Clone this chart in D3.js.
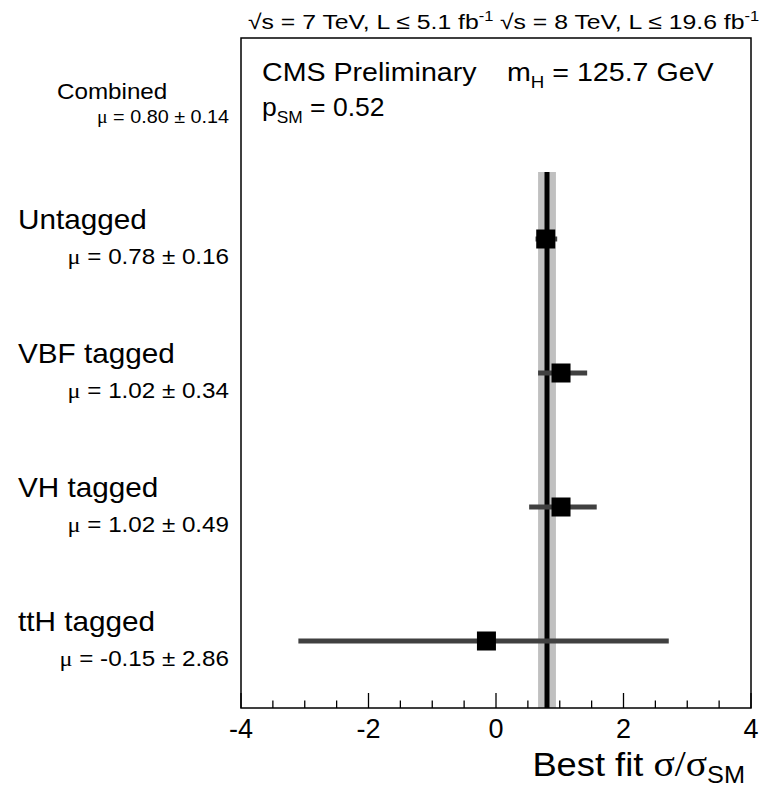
<!DOCTYPE html>
<html>
<head>
<meta charset="utf-8">
<script src="https://cdn.jsdelivr.net/npm/d3@7"></script>
<style>
  html, body { margin: 0; padding: 0; background: #fff; }
  svg { display: block; font-family: "Liberation Sans", Arial, Helvetica, sans-serif; }
</style>
</head>
<body>
<div id="chart"></div>
<script>
(function () {
  // rows, top to bottom
  const categories = ['Combined', 'Untagged', 'VBF tagged', 'VH tagged', 'ttH tagged'];
  const muValues = ['0.80 \u00b1 0.14', '0.78 \u00b1 0.16', '1.02 \u00b1 0.34', '1.02 \u00b1 0.49', '-0.15 \u00b1 2.86'];

  // combined fit (vertical line + band)
  const combinedFit = 0.80;
  const combinedErr = 0.14;

  // per-channel best fit and error bar extent
  const channels = ['Untagged', 'VBF tagged', 'VH tagged', 'ttH tagged'];
  const bestFit = [0.78, 1.02, 1.02, -0.15];
  const errLow = [0.16, 0.36, 0.50, 2.95];
  const errHigh = [0.18, 0.41, 0.56, 2.86];

  const xTicksMajor = [-4, -2, 0, 2, 4];
  const xTicksMinor = [-3.5, -3, -2.5, -1.5, -1, -0.5, 0.5, 1, 1.5, 2.5, 3, 3.5];

  const W = 759, H = 789;
  const FRAME = { left: 241, right: 751, top: 38, bottom: 708 };
  const SERIF = '"Liberation Serif", "Times New Roman", serif';
  const SX = 1.1; // ROOT text in the source looks a bit wider than Helvetica

  const svg = d3.select('#chart').append('svg')
    .attr('width', W)
    .attr('height', H);

  // text placed in a horizontally stretched group
  function wideText(px, py, anchor, sx) {
    return svg.append('g')
      .attr('transform', `translate(${px},${py}) scale(${sx || SX},1)`)
      .append('text')
      .attr('text-anchor', anchor || 'start');
  }

  const x = d3.scaleLinear().domain([-4, 4]).range([FRAME.left, FRAME.right]);
  const y = d3.scaleBand().domain(categories).range([FRAME.top, FRAME.bottom]);
  const yc = c => y(c) + y.bandwidth() / 2;

  // Combined band + line (starts at boundary below the "Combined" row)
  const bandTop = y(categories[1]);
  svg.append('rect')
    .attr('x', x(combinedFit - combinedErr))
    .attr('y', bandTop)
    .attr('width', x(combinedFit + combinedErr) - x(combinedFit - combinedErr))
    .attr('height', FRAME.bottom - bandTop)
    .attr('fill', '#c0c0c0');

  svg.append('line')
    .attr('x1', x(combinedFit)).attr('x2', x(combinedFit))
    .attr('y1', bandTop).attr('y2', FRAME.bottom)
    .attr('stroke', '#000')
    .attr('stroke-width', 5);

  // Error bars
  const pts = channels.map((c, i) => ({ c, v: bestFit[i], lo: bestFit[i] - errLow[i], hi: bestFit[i] + errHigh[i] }));

  svg.selectAll(null)
    .data(pts)
    .enter()
    .append('line')
    .attr('x1', d => x(d.lo))
    .attr('x2', d => x(d.hi))
    .attr('y1', d => yc(d.c))
    .attr('y2', d => yc(d.c))
    .attr('stroke', '#404040')
    .attr('stroke-width', 5);

  const MS = 19;
  svg.selectAll(null)
    .data(pts)
    .enter()
    .append('rect')
    .attr('x', d => x(d.v) - MS / 2)
    .attr('y', d => yc(d.c) - MS / 2)
    .attr('width', MS)
    .attr('height', MS)
    .attr('fill', '#000');

  // Frame
  svg.append('rect')
    .attr('x', FRAME.left)
    .attr('y', FRAME.top)
    .attr('width', FRAME.right - FRAME.left)
    .attr('height', FRAME.bottom - FRAME.top)
    .attr('fill', 'none')
    .attr('stroke', '#000')
    .attr('stroke-width', 1.5);

  // X axis ticks (ROOT style: inward)
  svg.selectAll(null)
    .data(xTicksMajor)
    .enter()
    .append('line')
    .attr('x1', d => x(d)).attr('x2', d => x(d))
    .attr('y1', FRAME.bottom).attr('y2', FRAME.bottom - 15)
    .attr('stroke', '#000')
    .attr('stroke-width', 1.3);

  svg.selectAll(null)
    .data(xTicksMinor)
    .enter()
    .append('line')
    .attr('x1', d => x(d)).attr('x2', d => x(d))
    .attr('y1', FRAME.bottom).attr('y2', FRAME.bottom - 7.5)
    .attr('stroke', '#000')
    .attr('stroke-width', 1.3);

  svg.selectAll(null)
    .data(xTicksMajor)
    .enter()
    .append('text')
    .attr('x', d => x(d))
    .attr('y', 738)
    .attr('text-anchor', 'middle')
    .style('font-size', '27px')
    .text(d => d);

  // X axis title
  const xt = wideText(745, 776, 'end').style('font-size', '33px');
  xt.append('tspan').text('Best fit ');
  xt.append('tspan').style('font-family', SERIF).style('font-size', '36px').text('\u03c3/\u03c3');
  xt.append('tspan').attr('dy', 7).style('font-size', '23px').text('SM');

  // Row labels
  categories.forEach((c, i) => {
    const cy = yc(c);
    const isComb = i === 0;
    wideText(isComb ? 57 : 18, isComb ? cy - 6 : cy - 10, 'start')
      .style('font-size', isComb ? '22px' : '27px')
      .text(c);

    const mu = wideText(229, isComb ? cy + 18 : cy + 25, 'end')
      .style('font-size', isComb ? '18px' : '22px');
    mu.append('tspan').style('font-family', SERIF).text('\u03bc');
    mu.append('tspan').text(' = ' + muValues[i]);
  });

  // CMS labels
  wideText(262, 81, 'start')
    .style('font-size', '26px')
    .text('CMS Preliminary');

  const mh = wideText(507, 81, 'start').style('font-size', '26px');
  mh.append('tspan').text('m');
  mh.append('tspan').attr('dy', 7).style('font-size', '17px').text('H');
  mh.append('tspan').attr('dy', -7).text(' = 125.7 GeV');

  const psm = wideText(262, 116, 'start', 1.02).style('font-size', '26px');
  psm.append('tspan').text('p');
  psm.append('tspan').attr('dy', 7).style('font-size', '17px').text('SM');
  psm.append('tspan').attr('dy', -7).text(' = 0.52');

  // Header: energies and luminosities
  const hdr1 = wideText(248, 29, 'start', 1.18).style('font-size', '21px');
  hdr1.append('tspan').text('\u221as = 7 TeV, L \u2264 5.1 fb');
  hdr1.append('tspan').attr('dy', -8).style('font-size', '14px').text('-1');

  const hdr2 = wideText(500, 29, 'start', 1.18).style('font-size', '21px');
  hdr2.append('tspan').text('\u221as = 8 TeV, L \u2264 19.6 fb');
  hdr2.append('tspan').attr('dy', -8).style('font-size', '14px').text('-1');
})();
</script>
</body>
</html>
